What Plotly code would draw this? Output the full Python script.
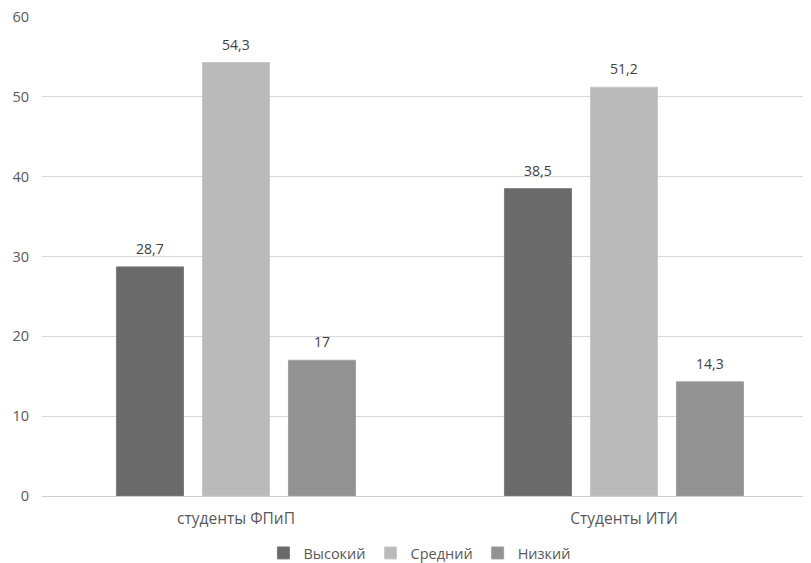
import plotly.graph_objects as go

categories = ["студенты ФПиП", "Студенты ИТИ"]
series_names = ["Высокий", "Средний", "Низкий"]
vysokiy = [28.7, 38.5]
sredniy = [54.3, 51.2]
nizkiy = [17, 14.3]
y_ticks = [0, 10, 20, 30, 40, 50, 60]

colors = ["#6a6a6a", "#bababa", "#929292"]
borders = ["#7c7c7c", "#c8c8c8", "#a0a0a0"]

BARGAP = 0.335
BARGROUPGAP = 0.22


def fmt(v):
    return ("%g" % v).replace(".", ",")


fig = go.Figure()
all_series = [vysokiy, sredniy, nizkiy]
for name, vals, c, b in zip(series_names, all_series, colors, borders):
    fig.add_trace(go.Bar(
        name=name,
        x=[0, 1],
        y=vals,
        marker=dict(color=c, line=dict(color=b, width=1)),
        cliponaxis=False,
    ))

# data labels positioned at the centre of each grouped bar
n = len(all_series)
slot = (1 - BARGAP) / n
for i, vals in enumerate(all_series):
    for j, v in enumerate(vals):
        fig.add_annotation(
            x=j + (i - (n - 1) / 2) * slot,
            y=v,
            text=fmt(v),
            showarrow=False,
            yanchor="bottom",
            yshift=7,
            font=dict(color="#404040", size=14),
        )

# page body has an 8px default margin, so the figure is sized/offset to compensate
fig.update_layout(
    width=803,
    height=555,
    margin=dict(l=34, r=0, t=9, b=67),
    paper_bgcolor="white",
    plot_bgcolor="white",
    barmode="group",
    bargap=BARGAP,
    bargroupgap=BARGROUPGAP,
    font=dict(family="'Open Sans', sans-serif", color="#595959", size=14),
    xaxis=dict(
        tickmode="array",
        tickvals=[0, 1],
        ticktext=categories,
        range=[-0.5, 1.482],
        showgrid=False,
        zeroline=False,
        showline=False,
        ticks="",
        ticklabelstandoff=11,
        tickfont=dict(size=15.5, color="#595959"),
    ),
    yaxis=dict(
        range=[0, 60],
        tickvals=y_ticks,
        showgrid=True,
        gridcolor="#d9d9d9",
        gridwidth=1,
        zeroline=True,
        zerolinecolor="#d0d0d0",
        zerolinewidth=1,
        showline=False,
        ticks="",
        ticklabelstandoff=12,
        ticklabeloverflow="allow",
        tickfont=dict(size=14.5, color="#595959"),
    ),
    showlegend=True,
    legend=dict(
        orientation="h",
        xref="container",
        yref="container",
        x=0.513,
        xanchor="center",
        y=0.018,
        yanchor="middle",
        font=dict(size=14.5, color="#595959"),
        itemwidth=30,
        tracegroupgap=0,
    ),
)

fig.write_html("out.html")
